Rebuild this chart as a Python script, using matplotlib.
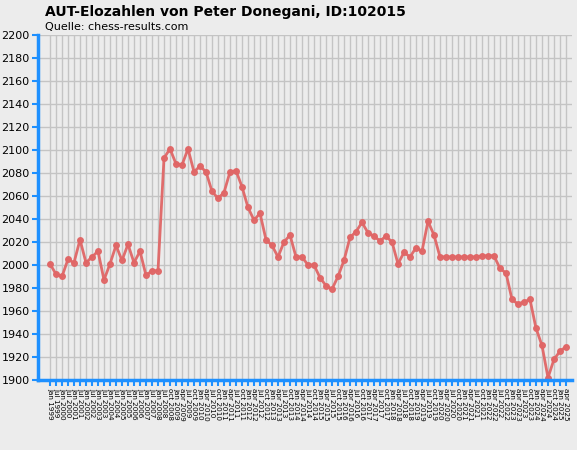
import matplotlib
matplotlib.use("Agg")
import matplotlib.pyplot as plt

values = [2001,1992,1990,2005,2002,2022,2002,2007,2012,1987,2001,2017,2004,2018,2002,2012,1991,1995,1995,
          2093,2101,2088,2087,2101,2081,2086,2081,2064,2058,2063,2081,2082,2068,2050,2039,2045,2022,2017,
          2007,2020,2026,2007,2007,2000,
          2000,1989,1982,1979,1990,2004,2024,2029,2037,2028,2025,2021,2025,2020,2001,2011,2007,2015,2012,
          2038,2026,2007,2007,2007,2007,2007,2007,2007,2008,2008,2008,1997,1993,1970,1966,1968,1970,1945,
          1930,1902,1918,1925,1929]

labels = ([f"{m} {y}" for y in range(1999, 2009) for m in ("jan", "jul")] +
          [f"{m} {y}" for y in range(2008, 2026) for m in ("jan", "apr", "jul", "oct")][3:3+67])

fig = plt.figure(figsize=(5.77, 4.5), dpi=100, facecolor="#ececec")
ax = fig.add_axes([38/577, 70/450, 534/577, 345/450])
ax.set_facecolor("#ececec")
x = list(range(len(values)))
ax.plot(x, values, color="#e06666", lw=2, marker="o", ms=4, alpha=0.95)
ax.set_xlim(-2, 87)
ax.set_ylim(1900, 2200)
ax.set_yticks(range(1900, 2201, 20))
ax.set_xticks(x)
ax.set_xticklabels(labels, rotation=270, fontsize=5.2)
ax.tick_params(axis="x", pad=2)
ax.tick_params(axis="y", labelsize=8, colors="black", pad=2)
ax.tick_params(axis="both", color="#1e90ff", width=1.5, length=4, direction="out")
ax.grid(True, color="#c4c4c4", lw=1)
ax.set_axisbelow(True)
for s in ("top", "right"):
    ax.spines[s].set_visible(False)
for s in ("left", "bottom"):
    ax.spines[s].set_color("#1e90ff")
    ax.spines[s].set_linewidth(2.5)
fig.text(45/577, 1-12/450, "AUT-Elozahlen von Peter Donegani, ID:102015", fontsize=10,
         fontweight="bold", va="center")
fig.text(45/577, 1-27/450, "Quelle: chess-results.com", fontsize=8, va="center")
fig.savefig("out.png", facecolor=fig.get_facecolor())
